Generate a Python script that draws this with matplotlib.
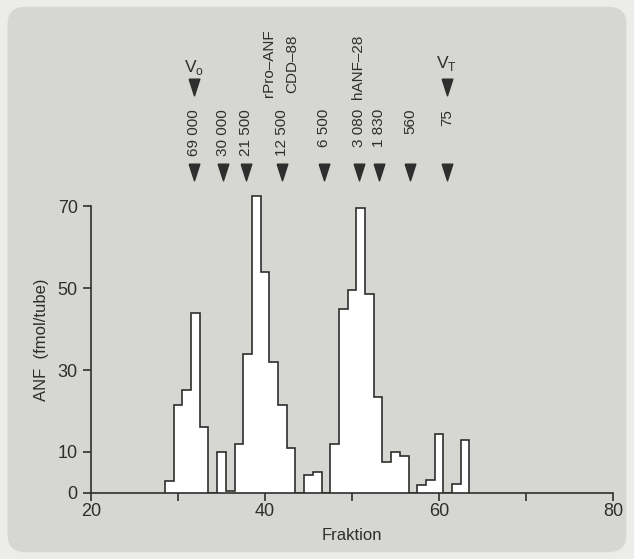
import matplotlib.pyplot as plt
from matplotlib.patches import FancyBboxPatch
import numpy as np

plt.rcParams['font.family'] = ['Liberation Sans', 'DejaVu Sans']

# ANF per fraction, fractions 29..63
fractions = list(range(29, 64))
anf = [3, 21.5, 25, 44, 16, 0, 10, 0.5, 12, 34,
       72.5, 54, 32, 21.5, 11, 0, 4.5, 5, 0, 12,
       45, 49.5, 69.5, 48.5, 23.5, 7.5, 10, 9, 0, 2,
       3.2, 14.5, 0, 2.2, 13]

# molecular weight markers (elution position)
marker_pos = [31.8, 35.2, 37.8, 42.0, 46.8, 50.8, 53.1, 56.7, 60.9]
marker_lbl = ["69 000", "30 000", "21 500", "12 500", "6 500",
              "3 080", "1 830", "560", "75"]
v0_pos, vt_pos = 31.8, 60.9

ink = "#2e2e2e"
tri = [(-0.32, 0.5), (0.32, 0.5), (0, -0.5), (-0.32, 0.5)]

fig = plt.figure(figsize=(6.34, 5.59), dpi=100)
fig.patch.set_facecolor("#ecece9")
fig.patches.append(FancyBboxPatch((0.012, 0.012), 0.976, 0.976,
                                  boxstyle="round,pad=0,rounding_size=0.03",
                                  transform=fig.transFigure, facecolor="#d6d6d3",
                                  edgecolor="none", zorder=-10))

ax = fig.add_axes([0.1435, 0.1181, 0.8233, 0.55])
ax.set_facecolor("none")

edges = np.arange(28.5, 64.0, 1.0)
ax.stairs(anf, edges, fill=True, color="white", zorder=2)
ax.stairs(anf, edges, baseline=0, color=ink, lw=1.2, zorder=3)

ax.set_xlim(20, 80)
ax.set_ylim(0, 75)
for s in ["top", "right"]:
    ax.spines[s].set_visible(False)
ax.spines["left"].set_bounds(0, 70)
for s in ["left", "bottom"]:
    ax.spines[s].set_color(ink)
    ax.spines[s].set_linewidth(1.2)

ax.set_xticks([20, 40, 60, 80])
ax.set_xticks([30, 50, 70], minor=True)
ax.set_yticks([0, 10, 30, 50, 70])
ax.tick_params(which="both", direction="out", length=6, width=1.2, color=ink,
               labelsize=13, labelcolor=ink)
ax.tick_params(axis="x", pad=1)
ax.set_xlabel("Fraktion", fontsize=12, color=ink, labelpad=6)
ax.set_ylabel("ANF  (fmol/tube)", fontsize=12, color=ink, labelpad=6)

# marker arrows and labels
ax.plot(marker_pos, [78.3] * len(marker_pos), linestyle="none", marker=tri,
        markersize=12, color=ink, clip_on=False)
for x, lbl in zip(marker_pos, marker_lbl):
    ax.text(x, 93.7, lbl, rotation=90, ha="center", va="top", fontsize=11,
            color=ink)

ax.plot([v0_pos, vt_pos], [99, 99], linestyle="none", marker=tri,
        markersize=12, color=ink, clip_on=False)
ax.text(v0_pos, 101.5, r"V$_\mathregular{o}$", ha="center", va="bottom",
        fontsize=12.5, color=ink)
ax.text(vt_pos, 102.5, r"V$_\mathregular{T}$", ha="center", va="bottom",
        fontsize=12.5, color=ink)

ax.text(40.5, 96.6, "rPro\u2013ANF", rotation=90, ha="center", va="bottom",
        fontsize=11, color=ink)
ax.text(43.1, 97.6, "CDD\u201388", rotation=90, ha="center", va="bottom",
        fontsize=11, color=ink)
ax.text(50.7, 96.0, "hANF\u201328", rotation=90, ha="center", va="bottom",
        fontsize=11, color=ink)

fig.savefig("out.png", dpi=100, facecolor=fig.get_facecolor())
